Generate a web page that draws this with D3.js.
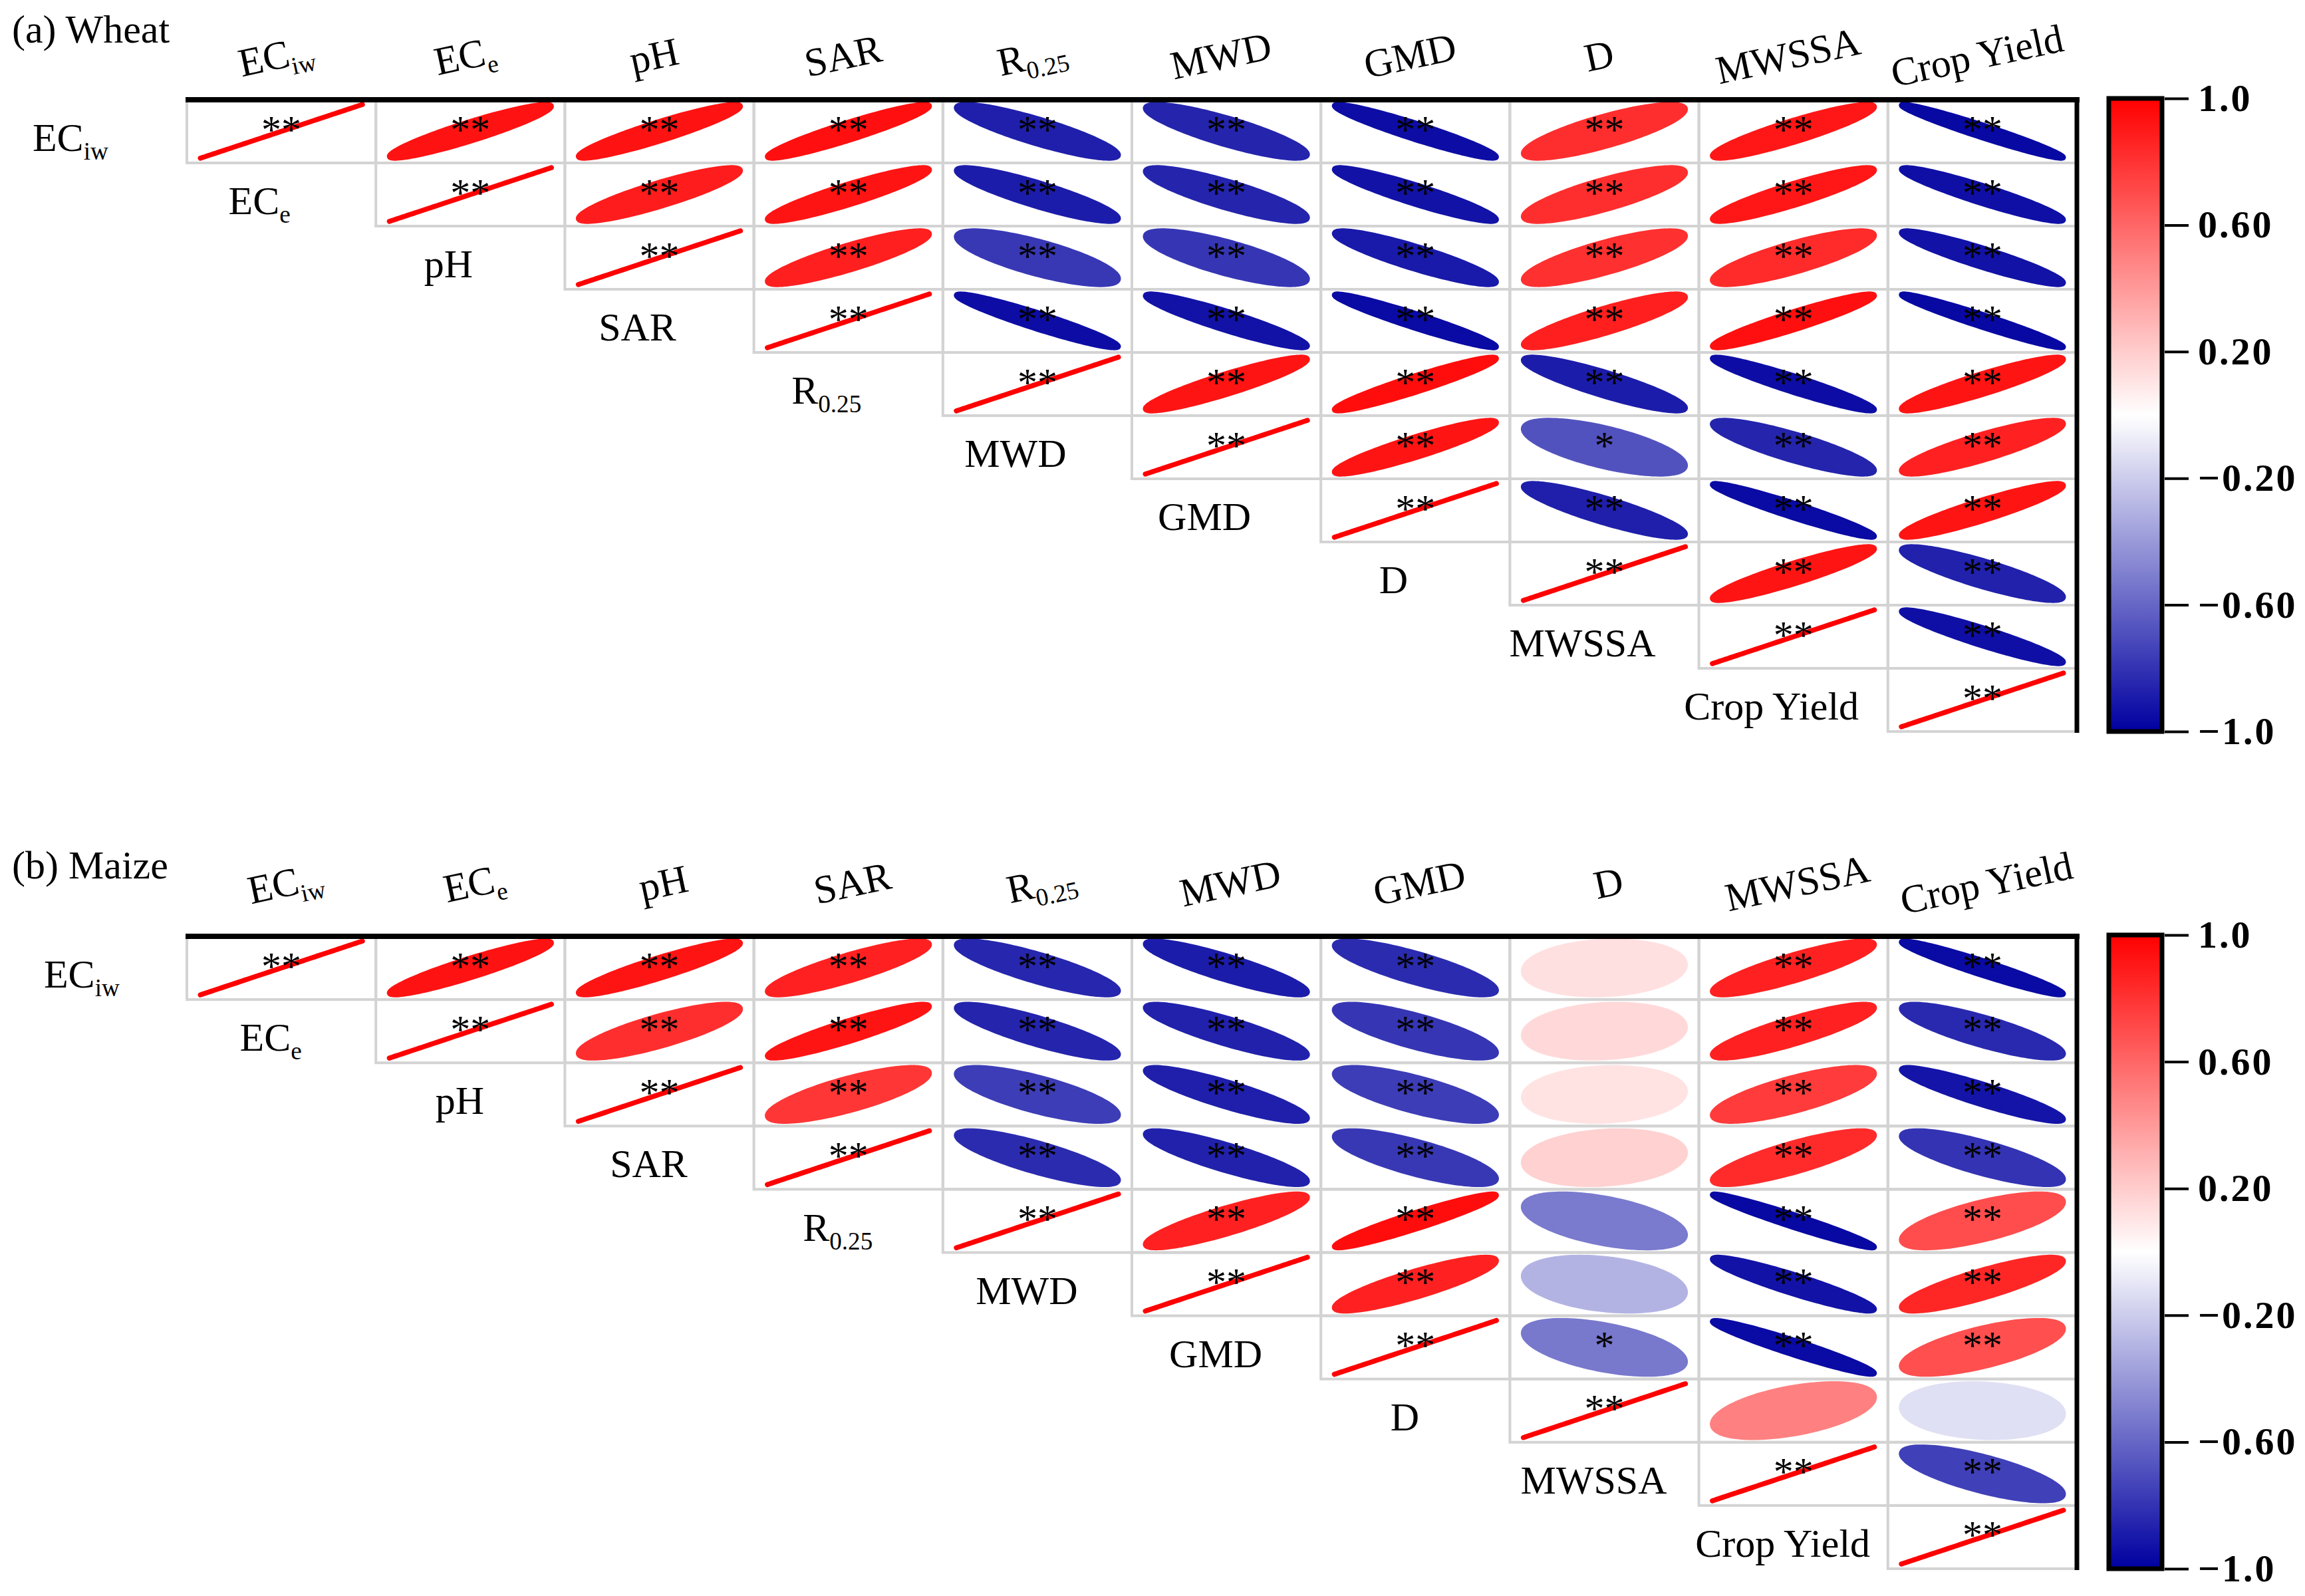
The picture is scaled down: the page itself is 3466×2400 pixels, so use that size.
<!DOCTYPE html>
<html>
<head>
<meta charset="utf-8">
<script src="https://cdn.jsdelivr.net/npm/d3@7"></script>
<style>
body { margin: 0; background: #fff; }
</style>
</head>
<body>
<svg id="chart"></svg>
<script>
// muuttujat ja nimien osat (alaindeksi erikseen)
const vars = ["ECiw", "ECe", "pH", "SAR", "R0.25", "MWD", "GMD", "D", "MWSSA", "Crop Yield"];
const labelMain = ["EC", "EC", "pH", "SAR", "R", "MWD", "GMD", "D", "MWSSA", "Crop Yield"];
const labelSub = ["iw", "e", "", "", "0.25", "", "", "", "", ""];

// yläkolmio rivi kerrallaan (sarakkeet i+1 ... 9)
const wheatR = [
    [0.93, 0.93, 0.94, -0.88, -0.86, -0.95, 0.82, 0.91, -0.97],
    [0.89, 0.92, -0.89, -0.86, -0.93, 0.82, 0.91, -0.94],
    [0.88, -0.78, -0.79, -0.90, 0.81, 0.83, -0.93],
    [-0.95, -0.93, -0.96, 0.88, 0.94, -0.97],
    [0.92, 0.95, -0.89, -0.95, 0.92],
    [0.92, -0.68, -0.86, 0.87],
    [-0.88, -0.96, 0.92],
    [0.92, -0.87],
    [-0.94]
];
const wheatSig = [
    ["**", "**", "**", "**", "**", "**", "**", "**", "**"],
    ["**", "**", "**", "**", "**", "**", "**", "**"],
    ["**", "**", "**", "**", "**", "**", "**"],
    ["**", "**", "**", "**", "**", "**"],
    ["**", "**", "**", "**", "**"],
    ["**", "*", "**", "**"],
    ["**", "**", "**"],
    ["**", "**"],
    ["**"]
];

const maizeR = [
    [0.93, 0.92, 0.87, -0.85, -0.89, -0.83, 0.12, 0.87, -0.96],
    [0.82, 0.92, -0.86, -0.87, -0.79, 0.15, 0.87, -0.84],
    [0.79, -0.76, -0.88, -0.76, 0.11, 0.77, -0.92],
    [-0.83, -0.87, -0.78, 0.18, 0.83, -0.80],
    [0.87, 0.95, -0.52, -0.97, 0.70],
    [0.87, -0.30, -0.93, 0.85],
    [-0.53, -0.96, 0.69],
    [0.50, -0.12],
    [-0.75]
];
const maizeSig = [
    ["**", "**", "**", "**", "**", "**", "", "**", "**"],
    ["**", "**", "**", "**", "**", "", "**", "**"],
    ["**", "**", "**", "**", "", "**", "**"],
    ["**", "**", "**", "", "**", "**"],
    ["**", "**", "", "**", "**"],
    ["**", "", "**", "**"],
    ["*", "**", "**"],
    ["", ""],
    ["**"]
];

// väripalkin asteikko
const cbTicks = [1.0, 0.6, 0.2, -0.2, -0.6, -1.0];
const cbLabels = ["1.0", "0.60", "0.20", "\u22120.20", "\u22120.60", "\u22121.0"];

const W = 3466, H = 2400;
const gridLeft = 281, gridRight = 3123;
const serif = "'Liberation Serif', 'Times New Roman', serif";

const svg = d3.select("#chart")
    .attr("width", W)
    .attr("height", H)
    .attr("viewBox", `0 0 ${W} ${H}`);

const color = d3.scaleLinear()
    .domain([-1, 0, 1])
    .range(["#0000a0", "#ffffff", "#ff0000"]);

// gradientti väripalkkia varten
const grad = svg.append("defs").append("linearGradient")
    .attr("id", "cbGrad")
    .attr("x1", 0).attr("y1", 1).attr("x2", 0).attr("y2", 0);
d3.range(-1, 1.001, 0.1).forEach(v => {
    grad.append("stop")
        .attr("offset", ((v + 1) / 2 * 100) + "%")
        .attr("stop-color", color(v));
});

const panels = [
    {title: "(a) Wheat", r: wheatR, sig: wheatSig, top: 150, bottom: 1100, titleY: 64, headOff: -8, headDy: -66, rowOff: -33},
    {title: "(b) Maize", r: maizeR, sig: maizeSig, top: 1408, bottom: 2359, titleY: 1321, headOff: 6, headDy: -80, rowOff: -16}
];

function addLabel(text, i, size) {
    text.append("tspan").text(labelMain[i]);
    if (labelSub[i]) {
        text.append("tspan")
            .attr("font-size", size * 0.62)
            .attr("dy", size * 0.22)
            .text(labelSub[i]);
    }
}

panels.forEach(p => {
    const x = d3.scaleBand().domain(vars).range([gridLeft, gridRight]);
    const y = d3.scaleBand().domain(vars).range([p.top, p.bottom]);
    const bw = x.bandwidth(), bh = y.bandwidth();
    const g = svg.append("g");

    // otsikko
    g.append("text")
        .attr("x", 18).attr("y", p.titleY)
        .attr("font-family", serif).attr("font-size", 60)
        .text(p.title);

    // solut yläkolmiosta
    const cells = [];
    vars.forEach((vi, i) => {
        vars.forEach((vj, j) => {
            if (j < i) return;
            const r = i === j ? 1 : p.r[i][j - i - 1];
            const s = i === j ? "**" : p.sig[i][j - i - 1];
            cells.push({i, j, vi, vj, r, s});
        });
    });

    g.selectAll("rect.cell")
        .data(cells)
        .enter().append("rect")
        .attr("class", "cell")
        .attr("x", d => x(d.vj))
        .attr("y", d => y(d.vi))
        .attr("width", bw)
        .attr("height", bh)
        .attr("fill", "none")
        .attr("stroke", "#d3d3d3")
        .attr("stroke-width", 4);

    const sw = 7.5;
    const sx = bw * 0.442 - sw / 2, sy = bh * 0.465 - sw / 2;
    const ex = d3.scaleLinear().domain([-1, 1]).range([-sx, sx]);
    const ey = d3.scaleLinear().domain([-1, 1]).range([sy, -sy]);
    const tt = d3.range(0, 2 * Math.PI + 0.001, Math.PI / 60);
    const ellipse = r => {
        const dd = Math.acos(Math.max(-1, Math.min(1, r)));
        return d3.line()(tt.map(t => [ex(Math.cos(t + dd / 2)), ey(Math.cos(t - dd / 2))])) + "Z";
    };

    g.selectAll("path.ell")
        .data(cells)
        .enter().append("path")
        .attr("class", "ell")
        .attr("transform", d => `translate(${x(d.vj) + bw / 2}, ${y(d.vi) + bh / 2})`)
        .attr("d", d => ellipse(d.r))
        .attr("fill", d => color(d.r))
        .attr("stroke", d => color(d.r))
        .attr("stroke-width", sw)
        .attr("stroke-linejoin", "round");

    g.selectAll("text.sig")
        .data(cells)
        .enter().append("text")
        .attr("class", "sig")
        .attr("x", d => x(d.vj) + bw / 2)
        .attr("y", d => y(d.vi) + bh / 2 + 17)
        .attr("text-anchor", "middle")
        .attr("font-family", serif)
        .attr("font-size", 60)
        .text(d => d.s);

    // kehys: musta ylä- ja oikea reuna
    g.append("line")
        .attr("x1", gridLeft - 2).attr("x2", gridRight + 4)
        .attr("y1", p.top).attr("y2", p.top)
        .attr("stroke", "#000").attr("stroke-width", 8);
    g.append("line")
        .attr("x1", gridRight).attr("x2", gridRight)
        .attr("y1", p.top).attr("y2", p.bottom + 2)
        .attr("stroke", "#000").attr("stroke-width", 7);

    // sarakeotsikot
    vars.forEach((v, i) => {
        const t = g.append("text")
            .attr("transform", `translate(${x(v) + bw / 2 + p.headOff}, ${p.top + p.headDy}) rotate(-12)`)
            .attr("y", 20)
            .attr("text-anchor", "middle")
            .attr("font-family", serif)
            .attr("font-size", 60);
        addLabel(t, i, 60);
    });

    // riviotsikot diagonaalin alla
    vars.forEach((v, i) => {
        const t = g.append("text")
            .attr("x", gridLeft + (i - 1) * bw + bw / 2 + p.rowOff)
            .attr("y", y(v) + bh - 18)
            .attr("text-anchor", "middle")
            .attr("font-family", serif)
            .attr("font-size", 60);
        addLabel(t, i, 60);
    });

    // väripalkki
    const cbScale = d3.scaleLinear().domain([-1, 1]).range([p.bottom, p.top - 2]);
    g.append("rect")
        .attr("x", 3171).attr("y", p.top - 2)
        .attr("width", 80).attr("height", p.bottom - p.top + 2)
        .attr("fill", "url(#cbGrad)")
        .attr("stroke", "#000").attr("stroke-width", 7);

    const cbAxis = d3.axisRight(cbScale)
        .tickValues(cbTicks)
        .tickSize(36)
        .tickPadding(14)
        .tickFormat((d, k) => cbLabels[k]);
    const axG = g.append("g")
        .attr("transform", `translate(3255, 0)`)
        .call(cbAxis);
    axG.select(".domain").remove();
    axG.selectAll(".tick line").attr("stroke-width", 4);
    axG.selectAll(".tick text")
        .attr("font-family", serif)
        .attr("font-weight", "bold")
        .attr("font-size", 58)
        .attr("letter-spacing", 3);
});
</script>
</body>
</html>
